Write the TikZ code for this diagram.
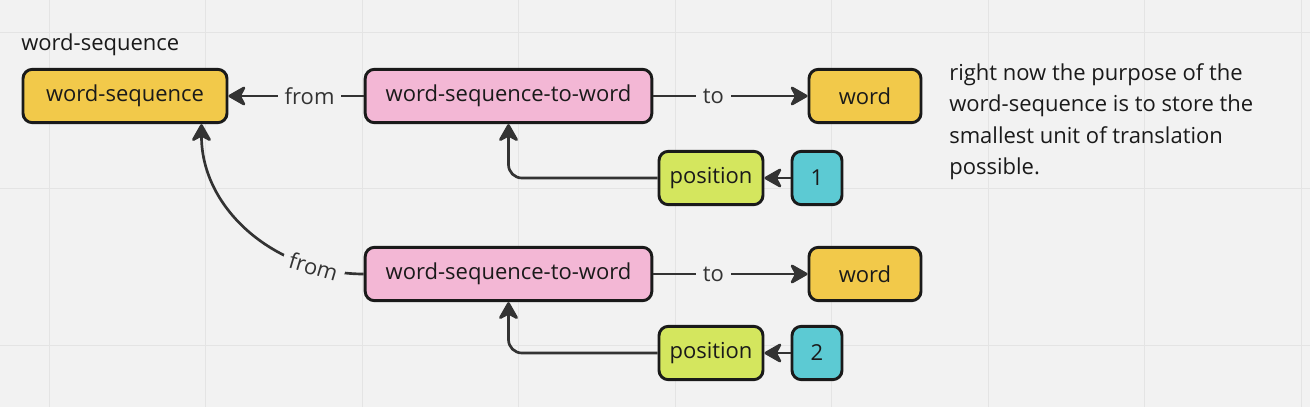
\documentclass[tikz,border=0pt]{standalone}
\usepackage{fontspec}
\setmainfont{Open Sans}
\usetikzlibrary{arrows.meta,calc}
\tikzset {>={Stealth[length=15pt,width=17pt,inset=4.5pt,round]}}
\definecolor{bg}{HTML}{F2F2F2}
\definecolor{gridline}{HTML}{E4E4E4}
\definecolor{ink}{HTML}{1A1A1A}
\definecolor{wire}{HTML}{333333}
\definecolor{wordyellow}{HTML}{F2C94A}
\definecolor{linkpink}{HTML}{F3B7D5}
\definecolor{poslime}{HTML}{D4E65E}
\definecolor{numcyan}{HTML}{5CCAD3}
\tikzset{
  txt/.style={font=\fontsize{16.5}{23.6}\selectfont},
  box/.style={txt, draw=ink, line width=2.2pt, rounded corners=7pt,
    minimum height=40pt, text=ink, inner sep=0pt},
  wordbox/.style={box, fill=wordyellow},
  linkbox/.style={box, fill=linkpink, minimum width=215pt},
  posbox/.style={box, fill=poslime, minimum width=78pt},
  numbox/.style={box, fill=numcyan, minimum width=37.5pt},
  link/.style={->, draw=wire, line width=2pt},
  tag/.style={txt, fill=bg, text=wire, inner xsep=5pt, inner ysep=1pt}
}
\begin{document}
\begin{tikzpicture}[x=0.75pt,y=-0.75pt]
\fill[bg] (0,0) rectangle (1310,407);
\useasboundingbox (0,0) rectangle (1310,407);
\draw[gridline, line width=0.75pt]
  (49,0) -- (49,407) (205.5,0) -- (205.5,407) (362,0) -- (362,407)
  (518.5,0) -- (518.5,407) (675,0) -- (675,407) (831.5,0) -- (831.5,407)
  (988,0) -- (988,407) (1144.5,0) -- (1144.5,407) (1301,0) -- (1301,407)
  (0,32) -- (1310,32) (0,188.5) -- (1310,188.5) (0,345) -- (1310,345);

\node[txt, text=ink, anchor=west, inner sep=0pt] (title) at (21,45) {word-sequence};
\node[wordbox, minimum width=153pt] (ws) at (125,96) {word-sequence};

\node[linkbox] (wstwA) at (508.5,96) {word-sequence-to-word};
\node[wordbox, minimum width=84pt] (wordA) at (865,96) {word};
\node[posbox] (posA) at (711,178) {position};
\node[numbox] (numA) at (817,178) {1};

\node[linkbox] (wstwB) at (508.5,274) {word-sequence-to-word};
\node[wordbox, minimum width=84pt] (wordB) at (865,274) {word};
\node[posbox] (posB) at (711,353) {position};
\node[numbox] (numB) at (817,353) {2};

\node[txt, text=ink, anchor=north west, align=left, inner sep=0pt] (note) at (949,63)
  {right now the purpose of the\\word-sequence is to store the\\smallest unit of translation\\possible.};

\draw[link] (wstwA.west) -- node[tag, pos=0.4] {from} (ws.east);
\draw[link] (wstwA.east) -- node[tag, pos=0.39] {to} (wordA.west);
\draw[link, rounded corners=10pt] (posA.west) -| (wstwA.south);
\draw[link] (numA.west) -- (posA.east);

\draw[link] (wstwB.west) to[out=180, in=-90]
  node[tag, sloped, pos=0.2] {from} ($(ws.south east)+(-27,0)$);
\draw[link] (wstwB.east) -- node[tag, pos=0.39] {to} (wordB.west);
\draw[link, rounded corners=10pt] (posB.west) -| (wstwB.south);
\draw[link] (numB.west) -- (posB.east);
\end{tikzpicture}
\end{document}
